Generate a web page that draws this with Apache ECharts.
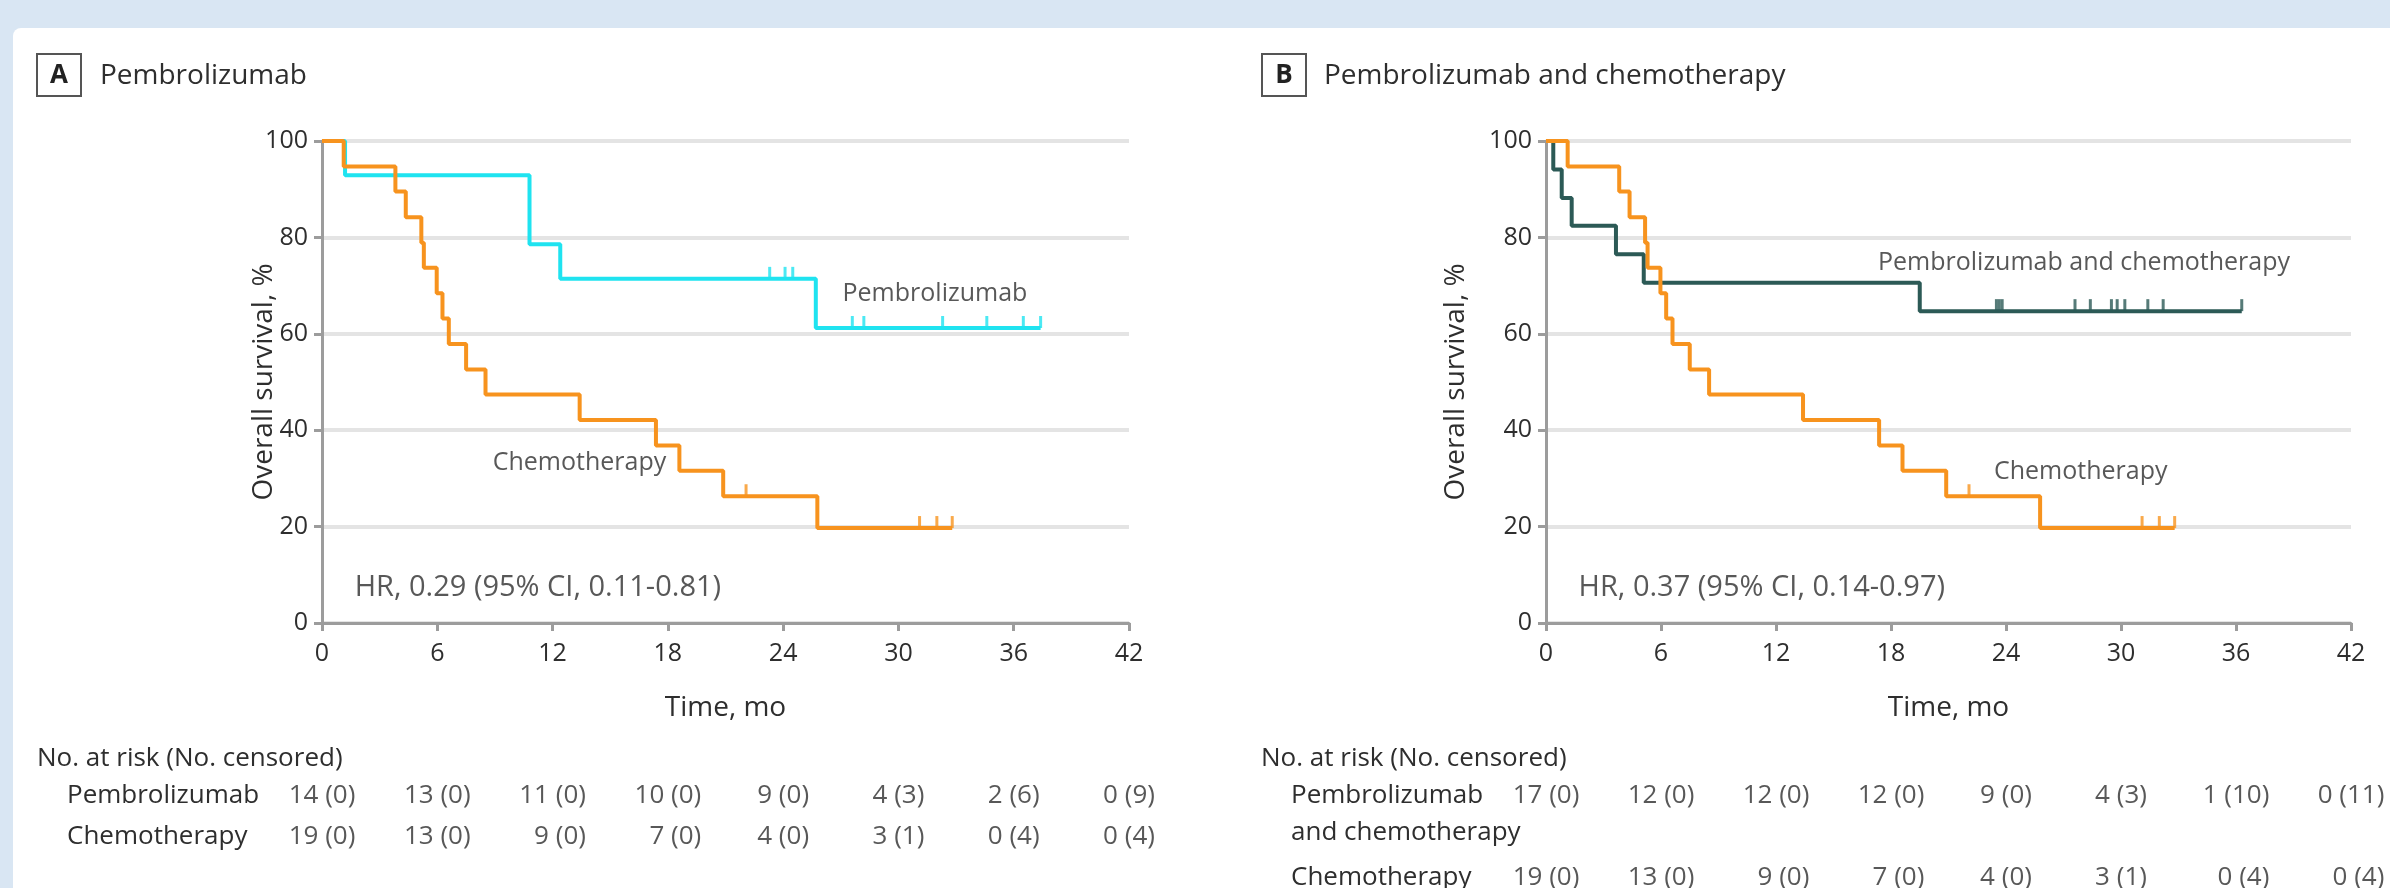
<!DOCTYPE html>
<html><head><meta charset="utf-8">
<script src="https://cdn.jsdelivr.net/npm/echarts@6/dist/echarts.min.js"></script>
<style>
html,body{margin:0;padding:0;}
body{width:2390px;height:888px;overflow:hidden;background:#d9e6f3;position:relative;}
#panel{position:absolute;left:13px;top:28px;width:2377px;height:860px;background:#fff;border-top-left-radius:8px;}
#c{position:absolute;left:0;top:0;width:2390px;height:888px;}
</style></head><body><div id="panel"></div><div id="c"></div>
<script>
// ---------------- DATA ----------------
const timeTicks = [0, 6, 12, 18, 24, 30, 36, 42];
const survTicks = [0, 20, 40, 60, 80, 100];

// Panel A – Pembrolizumab (KM step points: time, survival %)
const pembroTimes = [0, 1.2, 10.8, 12.4, 25.7, 37.4];
const pembroSurv  = [100, 92.9, 78.6, 71.4, 61.2, 61.2];
const pembroCensor = [23.3, 24.1, 24.5, 27.6, 28.2, 32.3, 34.6, 36.5, 37.4];

// Chemotherapy (same curve in both panels)
const chemoTimes = [0, 1.13, 3.82, 4.36, 5.17, 5.3, 5.97, 6.27, 6.6, 7.5, 8.51, 13.41, 17.38, 18.6, 20.88, 25.78, 32.8];
const chemoSurv  = [100, 94.7, 89.5, 84.2, 78.9, 73.7, 68.4, 63.2, 57.9, 52.6, 47.4, 42.1, 36.8, 31.6, 26.3, 19.7, 19.7];
const chemoCensor = [22.07, 31.1, 32.0, 32.8];

// Panel B – Pembrolizumab and chemotherapy
const pcTimes = [0, 0.38, 0.82, 1.34, 3.65, 5.1, 19.5, 36.3];
const pcSurv  = [100, 94.1, 88.2, 82.4, 76.5, 70.6, 64.7, 64.7];
const pcCensor = [23.5, 23.65, 23.8, 27.6, 28.4, 29.5, 29.8, 30.2, 31.4, 32.2, 36.3];

// Number at risk (number censored) at timeTicks
const pembroAtRisk = [14, 13, 11, 10, 9, 4, 2, 0];
const pembroCens   = [0, 0, 0, 0, 0, 3, 6, 9];
const chemoAtRisk  = [19, 13, 9, 7, 4, 3, 0, 0];
const chemoCens    = [0, 0, 0, 0, 0, 1, 4, 4];
const pcAtRisk     = [17, 12, 12, 12, 9, 4, 1, 0];
const pcCens       = [0, 0, 0, 0, 0, 3, 10, 11];

const titleA = 'Pembrolizumab';
const titleB = 'Pembrolizumab and chemotherapy';
const hrA = 'HR, 0.29 (95% CI, 0.11-0.81)';
const hrB = 'HR, 0.37 (95% CI, 0.14-0.97)';

// ---------------- STYLE / LAYOUT ----------------
const FONT = '"Open Sans", "Noto Sans", sans-serif';
const TXT = '#2e2e2e';
const AXIS = '#9c9c9c';
const GRIDC = '#e4e4e4';
const CYAN = '#1fe3f0', ORANGE = '#f7931e', TEAL = '#2c5a56';
const FS = 25, FS_NAME = 28, FS_TITLE = 28, FS_RISK = 26, FS_HR = 29;

const plotTop = 141, plotH = 482;
const gA = {left: 322, width: 807};
const gB = {left: 1546, width: 805};
const riskTop = 796, riskRowH = 41;

const ctx = document.createElement('canvas').getContext('2d');
ctx.font = FS_RISK + 'px ' + FONT;
const mw = s => ctx.measureText(s).width;

function pts(times, surv) { return times.map((t, i) => [t, surv[i]]); }
function survAt(times, surv, t) { let s = surv[0]; for (let i = 0; i < times.length; i++) if (times[i] <= t) s = surv[i]; return s; }
function cens(times, surv, ct) { return ct.map(t => [t, survAt(times, surv, t)]); }

function xAx(gi) {
  return {gridIndex: gi, type: 'value', min: 0, max: 42, interval: 6,
    axisLine: {show: true, onZero: false, lineStyle: {color: AXIS, width: 3}},
    axisTick: {show: true, length: 8, lineStyle: {color: AXIS, width: 3}},
    axisLabel: {fontSize: FS, color: TXT, fontFamily: FONT, margin: 18},
    splitLine: {show: false},
    name: 'Time, mo', nameLocation: 'middle', nameGap: 71, nameMoveOverlap: false,
    nameTextStyle: {fontSize: FS_NAME, color: TXT, fontFamily: FONT}};
}
function yAx(gi, gap) {
  return {gridIndex: gi, type: 'value', min: 0, max: 100, interval: 20,
    axisLine: {show: true, lineStyle: {color: AXIS, width: 3}},
    axisTick: {show: true, length: 8, lineStyle: {color: AXIS, width: 3}},
    axisLabel: {fontSize: FS, color: TXT, fontFamily: FONT, margin: 14},
    splitLine: {show: true, lineStyle: {color: GRIDC, width: 4}},
    name: 'Overall survival, %', nameLocation: 'middle', nameGap: gap, nameRotate: 90, nameMoveOverlap: false,
    nameTextStyle: {fontSize: FS_NAME, color: TXT, fontFamily: FONT}};
}
function kmLine(gi, times, surv, color, z) {
  return {type: 'line', xAxisIndex: gi, yAxisIndex: gi, step: 'end', symbol: 'none',
    data: pts(times, surv), lineStyle: {color: color, width: 4}, z: z, silent: true, animation: false};
}
function censScatter(gi, times, surv, ct, color, z) {
  return {type: 'scatter', xAxisIndex: gi, yAxisIndex: gi, symbol: 'rect', symbolSize: [3, 12],
    symbolOffset: [0, -6], itemStyle: {color: color}, data: cens(times, surv, ct), z: z, animation: false};
}
function annot(gi, items) {
  return {type: 'scatter', xAxisIndex: gi, yAxisIndex: gi, symbolSize: 0.001,
    itemStyle: {color: 'rgba(0,0,0,0)'}, z: 10, animation: false,
    data: items.map(it => ({value: [it.t, it.s],
      label: {show: true, position: 'inside', formatter: it.text, align: it.align || 'center',
        fontSize: it.fs || FS, color: TXT, fontFamily: FONT}}))};
}
function riskSeries(gi, rows) {
  // each column: block centred on the tick, entries right-aligned within it
  const data = [];
  timeTicks.forEach((t, i) => {
    const texts = rows.map(r => r.atRisk[i] + ' (' + r.cens[i] + ')');
    const w = Math.max(...texts.map(mw));
    rows.forEach((r, k) => {
      data.push({value: [t, r.row],
        label: {show: true, position: [w / 2, 0], formatter: texts[k], align: 'right', verticalAlign: 'middle',
          fontSize: FS_RISK, color: TXT, fontFamily: FONT}});
    });
  });
  return {type: 'scatter', xAxisIndex: gi, yAxisIndex: gi, symbolSize: 0.001,
    itemStyle: {color: 'rgba(0,0,0,0)'}, data: data, animation: false};
}
function txt(x, y, text, fs, extra) {
  return Object.assign({type: 'text', x: x, y: y, silent: true,
    style: Object.assign({text: text, fontSize: fs, fontFamily: FONT, fill: TXT, verticalAlign: 'middle', align: 'left'}, extra || {})});
}

const chart = echarts.init(document.getElementById('c'), null, {renderer: 'canvas'});
const option = {
  animation: false,
  grid: [
    {left: gA.left, width: gA.width, top: plotTop, height: plotH},
    {left: gB.left, width: gB.width, top: plotTop, height: plotH},
    {left: gA.left, width: gA.width, top: riskTop, height: riskRowH * 2},
    {left: gB.left, width: gB.width, top: riskTop, height: riskRowH * 2}
  ],
  xAxis: [xAx(0), xAx(1),
    {gridIndex: 2, type: 'value', min: 0, max: 42, show: false},
    {gridIndex: 3, type: 'value', min: 0, max: 42, show: false}],
  yAxis: [yAx(0, 44), yAx(1, 76),
    {gridIndex: 2, type: 'value', min: 0, max: 2, inverse: true, show: false},
    {gridIndex: 3, type: 'value', min: 0, max: 2, inverse: true, show: false}],
  series: [
    kmLine(0, pembroTimes, pembroSurv, CYAN, 2),
    censScatter(0, pembroTimes, pembroSurv, pembroCensor, CYAN, 2),
    kmLine(0, chemoTimes, chemoSurv, ORANGE, 3),
    censScatter(0, chemoTimes, chemoSurv, chemoCensor, ORANGE, 3),
    annot(0, [
      {t: 31.9, s: 68.3, text: 'Pembrolizumab'},
      {t: 13.4, s: 33.2, text: 'Chemotherapy'},
      {t: 1.7, s: 7.4, text: hrA, align: 'left', fs: FS_HR}
    ]),
    kmLine(1, pcTimes, pcSurv, TEAL, 2),
    censScatter(1, pcTimes, pcSurv, pcCensor, TEAL, 2),
    kmLine(1, chemoTimes, chemoSurv, ORANGE, 3),
    censScatter(1, chemoTimes, chemoSurv, chemoCensor, ORANGE, 3),
    annot(1, [
      {t: 28.07, s: 74.8, text: 'Pembrolizumab and chemotherapy'},
      {t: 27.9, s: 31.4, text: 'Chemotherapy'},
      {t: 1.7, s: 7.4, text: hrB, align: 'left', fs: FS_HR}
    ]),
    riskSeries(2, [{atRisk: pembroAtRisk, cens: pembroCens, row: 0}, {atRisk: chemoAtRisk, cens: chemoCens, row: 1}]),
    riskSeries(3, [{atRisk: pcAtRisk, cens: pcCens, row: 0}, {atRisk: chemoAtRisk, cens: chemoCens, row: 2}])
  ],
  graphic: [
    {type: 'rect', shape: {x: 37, y: 54, width: 44, height: 42}, style: {fill: '#fff', stroke: '#555', lineWidth: 2}},
    txt(59, 76, 'A', 26, {align: 'center', fontWeight: 'bold', fill: '#222'}),
    txt(100, 76, titleA, FS_TITLE),
    {type: 'rect', shape: {x: 1262, y: 54, width: 44, height: 42}, style: {fill: '#fff', stroke: '#555', lineWidth: 2}},
    txt(1284, 76, 'B', 26, {align: 'center', fontWeight: 'bold', fill: '#222'}),
    txt(1324, 76, titleB, FS_TITLE),
    txt(37, 759, 'No. at risk (No. censored)', FS_RISK),
    txt(67, riskTop, 'Pembrolizumab', FS_RISK),
    txt(67, riskTop + riskRowH, 'Chemotherapy', FS_RISK),
    txt(1261, 759, 'No. at risk (No. censored)', FS_RISK),
    txt(1291, riskTop, 'Pembrolizumab', FS_RISK),
    txt(1291, riskTop + riskRowH * 0.9, 'and chemotherapy', FS_RISK),
    txt(1291, riskTop + riskRowH * 2, 'Chemotherapy', FS_RISK)
  ]
};
chart.setOption(option);
</script></body></html>
